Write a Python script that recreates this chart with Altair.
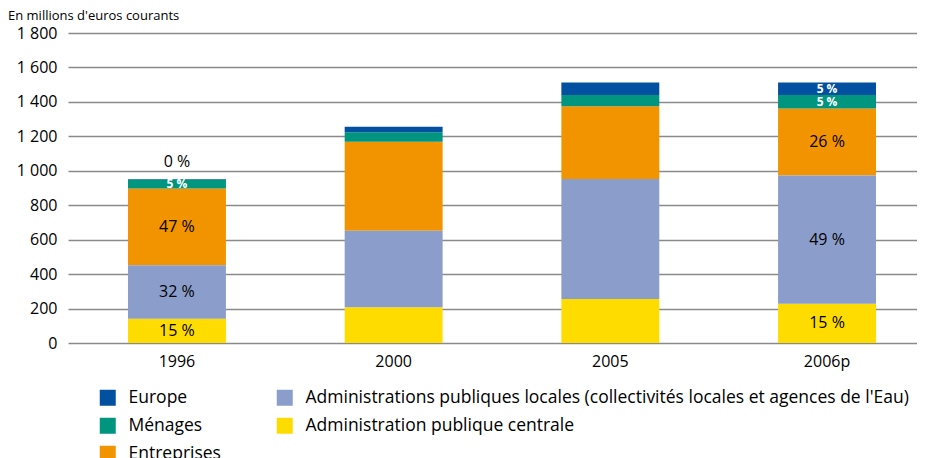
import altair as alt
import pandas as pd

years = ["1996", "2000", "2005", "2006p"]

series = [
    "Administration publique centrale",
    "Administrations publiques locales (collectivités locales et agences de l'Eau)",
    "Entreprises",
    "Ménages",
    "Europe",
]
colors = ["#FFDC00", "#8B9ECB", "#F29400", "#00957F", "#0450A0"]

apc = [141, 207, 256, 228]
apl = [311, 445, 696, 745]
ent = [445, 516, 423, 389]
men = [52, 55, 65, 78]
eur = [3, 33, 72, 72]

lab_apc = ["15 %", "", "", "15 %"]
lab_apl = ["32 %", "", "", "49 %"]
lab_ent = ["47 %", "", "", "26 %"]
lab_men = ["5 %", "", "", "5 %"]
lab_eur = ["0 %", "", "", "5 %"]

y_ticks = [0, 200, 400, 600, 800, 1000, 1200, 1400, 1600, 1800]
unit_title = "En millions d'euros courants"

values = [apc, apl, ent, men, eur]
labels = [lab_apc, lab_apl, lab_ent, lab_men, lab_eur]

rows = []
for si, s in enumerate(series):
    for yi, yr in enumerate(years):
        rows.append({"year": yr, "series": s, "order": si,
                     "value": values[si][yi], "label": labels[si][yi]})
df = pd.DataFrame(rows)

groupA = ["Europe", "Ménages", "Entreprises"]
colorsA = [colors[series.index(s)] for s in groupA]
groupB = [series[1], series[0]]
colorsB = [colors[series.index(s)] for s in groupB]
light = ["Europe", "Ménages"]

FONT = "Open Sans"

xscale = alt.Scale(domain=years, paddingInner=0.548, paddingOuter=0.233, align=0.594)
xaxis = alt.Axis(domain=False, ticks=False, labelFontSize=16, labelFont=FONT,
                 labelColor="#000000", labelPadding=10, labelAngle=0)
yscale = alt.Scale(domain=[0, 1800], nice=False)
yaxis = alt.Axis(values=y_ticks, domain=False, ticks=False, grid=True,
                 gridColor="#8a8a8a", gridWidth=1.3, labelOverlap=False,
                 labelFontSize=16, labelFont=FONT, labelColor="#000000",
                 labelPadding=11,
                 labelExpr="replace(format(datum.value, ','), ',', ' ')")


def X():
    return alt.X("year:N", sort=years, scale=xscale, title=None, axis=xaxis)


def Y(field):
    return alt.Y(field, scale=yscale, title=None, axis=yaxis)


base = alt.Chart(df).transform_stack(
    stack="value", groupby=["year"],
    sort=[alt.SortField("order", order="ascending")], as_=["v0", "v1"]
).transform_calculate(mid="(datum.v0 + datum.v1) / 2")


def legend(x):
    return alt.Legend(title=None, orient="none", legendX=x, legendY=356,
                      direction="vertical", symbolType="square", symbolSize=256,
                      symbolStrokeWidth=0, symbolOpacity=1, labelFontSize=17.5,
                      labelFont=FONT, labelColor="#000000", labelOffset=12,
                      rowPadding=9, labelLimit=800, padding=0)


barsA = base.transform_filter(
    alt.FieldOneOfPredicate(field="series", oneOf=groupA)
).mark_bar().encode(
    x=X(), y=Y("v0:Q"), y2="v1:Q",
    color=alt.Color("series:N", scale=alt.Scale(domain=groupA, range=colorsA), legend=legend(31)),
)

barsB = base.transform_filter(
    alt.FieldOneOfPredicate(field="series", oneOf=groupB)
).mark_bar().encode(
    x=X(), y=Y("v0:Q"), y2="v1:Q",
    color=alt.Color("series:N", scale=alt.Scale(domain=groupB, range=colorsB), legend=legend(208)),
)

txt_white = base.transform_filter(
    "datum.label != '' && datum.value >= 10"
).transform_filter(
    alt.FieldOneOfPredicate(field="series", oneOf=light)
).mark_text(font=FONT, fontSize=12, fontWeight="bold", color="#ffffff", baseline="middle").encode(
    x=X(), y=Y("mid:Q"), text="label:N",
)

txt_black = base.transform_filter(
    "datum.label != '' && datum.value >= 10 && datum.series != 'Europe' && datum.series != 'Ménages'"
).mark_text(font=FONT, fontSize=16, color="#000000", baseline="middle").encode(
    x=X(), y=Y("mid:Q"), text="label:N",
)

txt_above = base.transform_filter(
    "datum.label != '' && datum.value < 10"
).mark_text(font=FONT, fontSize=16, color="#000000", baseline="alphabetic", dy=-12).encode(
    x=X(), y=Y("v1:Q"), text="label:N",
)

title_txt = alt.Chart(pd.DataFrame({"t": [unit_title]})).mark_text(
    font=FONT, fontSize=13, color="#000000", align="left", baseline="alphabetic"
).encode(x=alt.value(-60), y=alt.value(-13), text="t:N")

chart = alt.layer(barsA, barsB, txt_white, txt_black, txt_above, title_txt).resolve_scale(
    color="independent"
).properties(
    width=849, height=310,
    autosize=alt.AutoSizeParams(type="none"),
    padding={"left": 60, "top": 25, "right": 0, "bottom": 115},
).configure_view(strokeWidth=0)

chart.save("out.html", embed_options={"renderer": "svg", "actions": False})
